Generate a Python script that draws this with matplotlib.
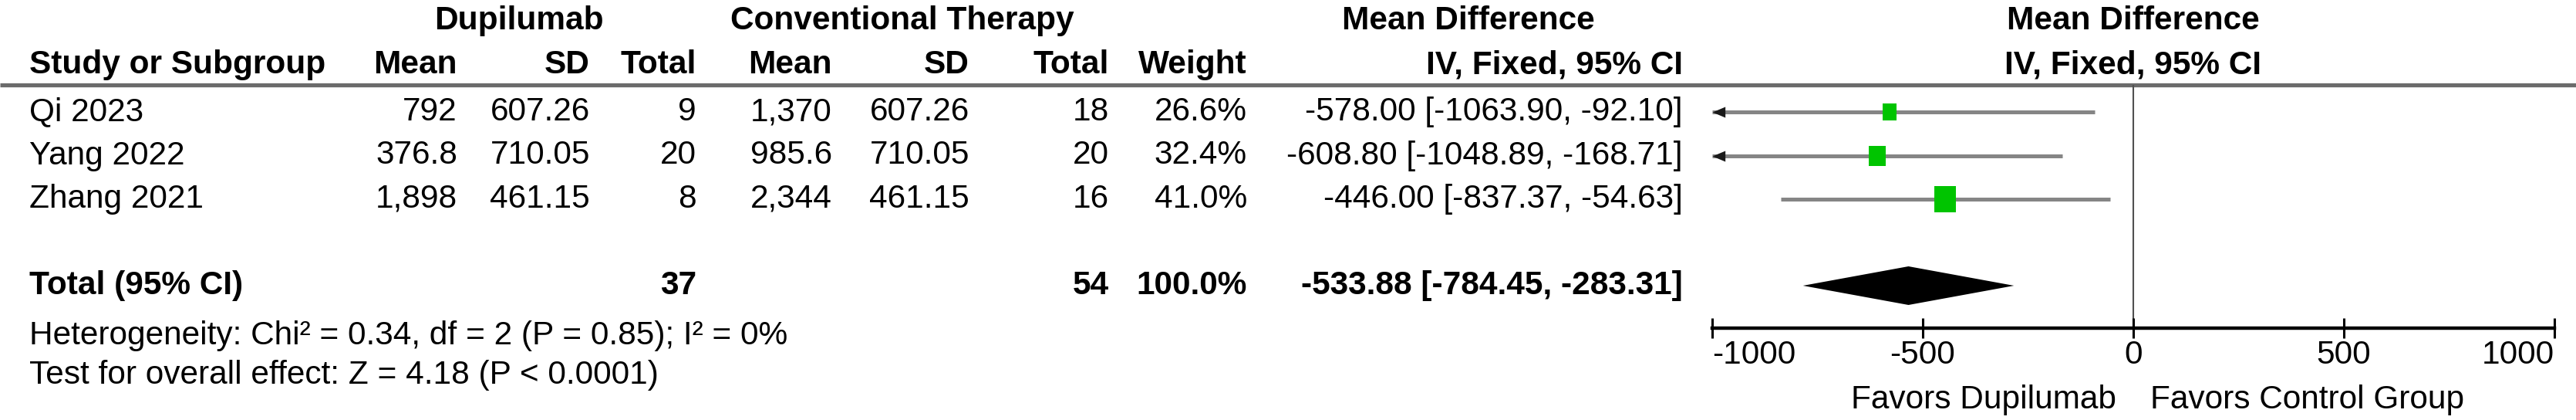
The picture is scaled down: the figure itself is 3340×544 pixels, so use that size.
import matplotlib.pyplot as plt

plt.rcParams["font.family"] = ["Liberation Sans", "DejaVu Sans"]
plt.rcParams["axes.unicode_minus"] = False

# data
studies = ["Qi 2023", "Yang 2022", "Zhang 2021"]
dup_mean = [792, 376.8, 1898]
dup_sd = [607.26, 710.05, 461.15]
dup_n = [9, 20, 8]
conv_mean = [1370, 985.6, 2344]
conv_sd = [607.26, 710.05, 461.15]
conv_n = [18, 20, 16]
weights = [26.6, 32.4, 41.0]
md = [-578.00, -608.80, -446.00]
ci_low = [-1063.90, -1048.89, -837.37]
ci_high = [-92.10, -168.71, -54.63]

total_md = -533.88
total_low = -784.45
total_high = -283.31
total_weight = 100.0
heterogeneity = "Heterogeneity: Chi\u00b2 = 0.34, df = 2 (P = 0.85); I\u00b2 = 0%"
overall_effect = "Test for overall effect: Z = 4.18 (P < 0.0001)"
x_ticks = [-1000, -500, 0, 500, 1000]
favors_left = "Favors Dupilumab"
favors_right = "Favors Control Group"

# layout (pixels of the 3341x544 canvas)
W, H, DPI = 3341, 544, 100
FS = 30.5
ROW0, STEP = 145, 56.5
TOTAL_Y = 370
HEAD1_Y, HEAD2_Y, RULE_Y = 27, 84, 110
HET_Y, TEST_Y = 435, 486
AXIS_Y, FAVORS_Y = 425, 518
X_LO_PX, X_HI_PX = 2220, 3312

STUDY_X = 38
DUP_MEAN_X, DUP_SD_X, DUP_N_X = 593, 765, 903
CONV_MEAN_X, CONV_SD_X, CONV_N_X = 1079, 1257, 1438
WEIGHT_X, CI_X = 1617, 2182

GREEN = "#00c400"
CI_GRAY = "#858585"


def fmt_num(v):
    return format(v, ",g")


def fmt_ci(m, lo, hi):
    return f"{m:.2f} [{lo:.2f}, {hi:.2f}]"


fig = plt.figure(figsize=(W / DPI, H / DPI), dpi=DPI)
fig.patch.set_facecolor("white")

tab = fig.add_axes([0, 0, 1, 1])
tab.set_xlim(0, W)
tab.set_ylim(H, 0)
tab.axis("off")


def put(x, y, s, ha="right", bold=False):
    tab.text(x, y, s, ha=ha, va="center", fontsize=FS,
             fontweight="bold" if bold else "normal", color="black")


# headers
put(673, HEAD1_Y, "Dupilumab", ha="center", bold=True)
put(1170, HEAD1_Y, "Conventional Therapy", ha="center", bold=True)
put(1904, HEAD1_Y, "Mean Difference", ha="center", bold=True)
put(STUDY_X, HEAD2_Y, "Study or Subgroup", ha="left", bold=True)
for x, s in [(DUP_MEAN_X, "Mean"), (DUP_SD_X, "SD"), (DUP_N_X, "Total"),
             (CONV_MEAN_X, "Mean"), (CONV_SD_X, "SD"), (CONV_N_X, "Total"),
             (WEIGHT_X, "Weight"), (CI_X, "IV, Fixed, 95% CI")]:
    put(x, HEAD2_Y, s, bold=True)
tab.plot([0, W], [RULE_Y, RULE_Y], color="#6b6b6b", lw=3.8, solid_capstyle="butt")

# study rows
row_y = [ROW0 + i * STEP for i in range(len(studies))]
for i, y in enumerate(row_y):
    put(STUDY_X, y, studies[i], ha="left")
    put(DUP_MEAN_X, y, fmt_num(dup_mean[i]))
    put(DUP_SD_X, y, f"{dup_sd[i]:.2f}")
    put(DUP_N_X, y, str(dup_n[i]))
    put(CONV_MEAN_X, y, fmt_num(conv_mean[i]))
    put(CONV_SD_X, y, f"{conv_sd[i]:.2f}")
    put(CONV_N_X, y, str(conv_n[i]))
    put(WEIGHT_X, y, f"{weights[i]:.1f}%")
    put(CI_X, y, fmt_ci(md[i], ci_low[i], ci_high[i]))

# total row
put(STUDY_X, TOTAL_Y, "Total (95% CI)", ha="left", bold=True)
put(DUP_N_X, TOTAL_Y, str(sum(dup_n)), bold=True)
put(CONV_N_X, TOTAL_Y, str(sum(conv_n)), bold=True)
put(WEIGHT_X, TOTAL_Y, f"{total_weight:.1f}%", bold=True)
put(CI_X, TOTAL_Y, fmt_ci(total_md, total_low, total_high), bold=True)
put(STUDY_X, HET_Y, heterogeneity, ha="left")
put(STUDY_X, TEST_Y, overall_effect, ha="left")

# forest panel, y in canvas pixels so rows line up with the table
ax = fig.add_axes([X_LO_PX / W, 1 - AXIS_Y / H,
                   (X_HI_PX - X_LO_PX) / W, (AXIS_Y - RULE_Y) / H])
ax.set_xlim(x_ticks[0], x_ticks[-1])
ax.set_ylim(AXIS_Y, RULE_Y)
ax.patch.set_alpha(0)
for side in ["top", "left", "right"]:
    ax.spines[side].set_visible(False)
ax.spines["bottom"].set_linewidth(3.2)
ax.set_yticks([])
ax.set_xticks(x_ticks, labels=[str(t) for t in x_ticks])
ax.tick_params(axis="x", direction="inout", length=19, width=2.2, pad=1,
               labelsize=FS, colors="black")
tick_labels = ax.get_xticklabels()
tick_labels[0].set_horizontalalignment("left")
tick_labels[-1].set_horizontalalignment("right")
ax.axvline(0, color="#505050", lw=1.5, zorder=1)

x_min, x_max = ax.get_xlim()
box = [(-0.42, -0.5), (0.42, -0.5), (0.42, 0.5), (-0.42, 0.5), (-0.42, -0.5)]
arrow = [(0, 0), (1, 0.42), (1, -0.42), (0, 0)]
for y, m, lo, hi, w in zip(row_y, md, ci_low, ci_high, weights):
    ax.plot([max(lo, x_min), min(hi, x_max)], [y, y], color=CI_GRAY, lw=3.6,
            solid_capstyle="butt", zorder=2)
    if lo < x_min:
        ax.plot(x_min, y, marker=arrow, ms=24, color="#1a1a1a", mew=0,
                zorder=3, clip_on=False)
    ax.plot(m, y, marker=box, ms=w * 0.6, color=GREEN, mew=0, zorder=4)

ax.fill([total_low, total_md, total_high, total_md],
        [TOTAL_Y, TOTAL_Y - 25, TOTAL_Y, TOTAL_Y + 25],
        color="black", lw=0, zorder=4)

ax.text(0, HEAD1_Y, "Mean Difference", ha="center", va="center",
        fontsize=FS, fontweight="bold")
ax.text(0, HEAD2_Y, "IV, Fixed, 95% CI", ha="center", va="center",
        fontsize=FS, fontweight="bold")
ax.text(-40, FAVORS_Y, favors_left, ha="right", va="center", fontsize=FS)
ax.text(40, FAVORS_Y, favors_right, ha="left", va="center", fontsize=FS)

fig.savefig("out.png", dpi=DPI)
plt.close(fig)
